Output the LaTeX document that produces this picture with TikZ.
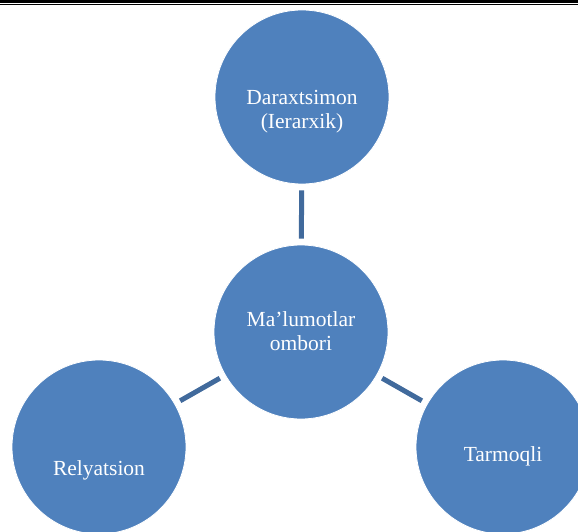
\documentclass[tikz,border=0pt]{standalone}
\usepackage{fontspec}
\setmainfont{Liberation Serif}
\definecolor{circblue}{RGB}{79,129,189}
\definecolor{linkblue}{RGB}{65,106,156}
\begin{document}
\begin{tikzpicture}[x=1pt,y=-1pt,
  bubble/.style={circle, fill=circblue, draw=white, line width=0.8pt, minimum size=174pt, inner sep=0pt},
  btext/.style={text=white, font=\fontsize{21.5}{24}\selectfont, align=center, inner sep=0pt},
  link/.style={draw=linkblue, line width=5pt, shorten <=6pt, shorten >=6pt}]
\useasboundingbox (0,0) rectangle (578,532);
\clip (0,0) rectangle (578,532);
\fill[white] (0,0) rectangle (578,532);
\draw[black, line width=2.7pt] (0,1.35) -- (578,1.35);
\draw[black, line width=1pt] (0,4.6) -- (578,4.6);
\node[bubble] (top) at (302,97) {};
\node[bubble] (mid) at (301,332) {};
\node[bubble] (left) at (99,447) {};
\node[bubble] (right) at (503,447) {};
\draw[link] (top) -- (mid);
\draw[link] (mid) -- (left);
\draw[link] (mid) -- (right);
\node[btext] (ttop) at (302,112) {Daraxtsimon\\(Ierarxik)};
\node[btext] (tmid) at (301,331) {Ma’lumotlar\\ombori};
\node[btext] (tleft) at (99,470) {Relyatsion};
\node[btext] (tright) at (503,456) {Tarmoqli};
\end{tikzpicture}
\end{document}
